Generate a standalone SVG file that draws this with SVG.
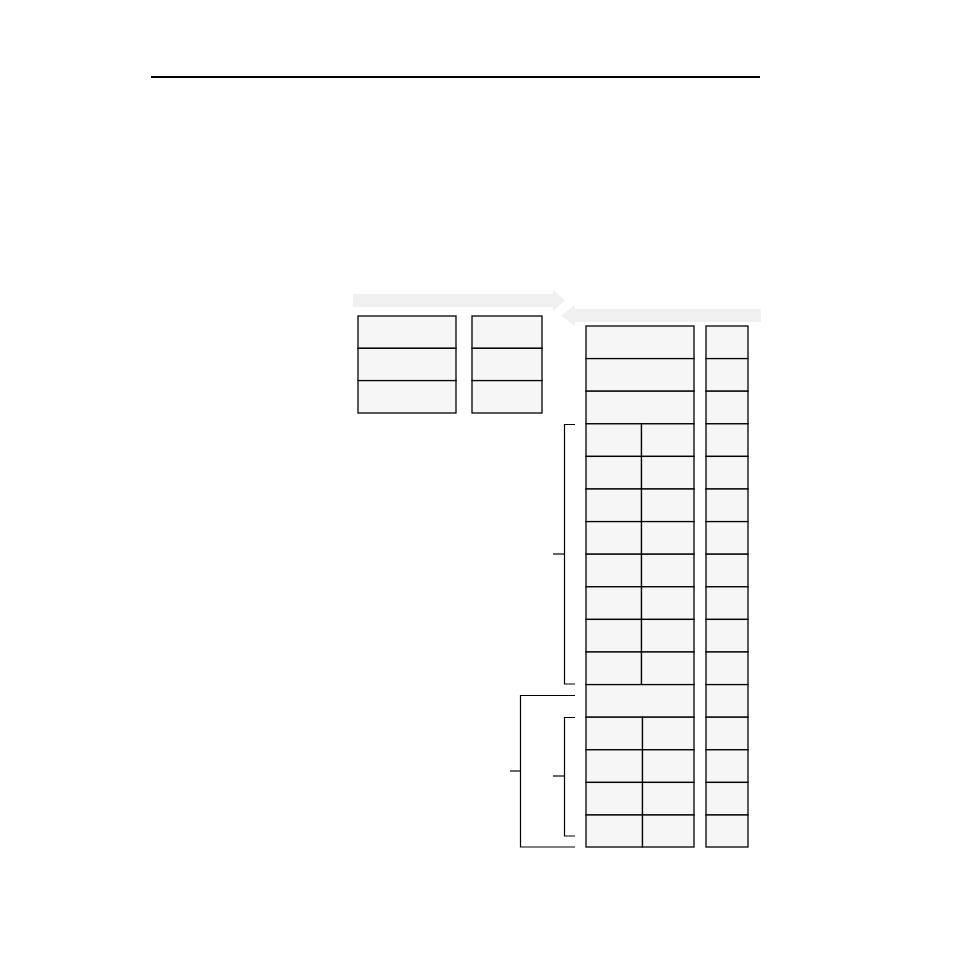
<svg xmlns="http://www.w3.org/2000/svg" width="954" height="954" viewBox="0 0 954 954">
<style>
.c{fill:#f6f6f6;stroke:#000;stroke-width:1.3}
.b{fill:none;stroke:#000;stroke-width:1.2}
.a{fill:#f0f0f0;stroke:none}
</style>
<rect width="954" height="954" fill="#fff"/>
<line x1="151" y1="77" x2="760" y2="77" stroke="#000" stroke-width="2"/>
<g id="arrows">
<polygon class="a" points="353,294 553,294 553,290 565,300.5 553,311 553,307 353,307"/>
<polygon class="a" points="761,309 575,309 575,305 561,315.5 575,326 575,322 761,322"/>
</g>
<g id="table-left">
<rect class="c" x="358" y="316" width="98" height="32.3"/>
<rect class="c" x="358" y="348.3" width="98" height="32.3"/>
<rect class="c" x="358" y="380.6" width="98" height="32.4"/>
</g>
<g id="table-left2">
<rect class="c" x="472" y="316" width="70" height="32.3"/>
<rect class="c" x="472" y="348.3" width="70" height="32.3"/>
<rect class="c" x="472" y="380.6" width="70" height="32.4"/>
</g>
<g id="table-main">
<rect class="c" x="586" y="326" width="108" height="32.6"/>
<rect class="c" x="586" y="358.6" width="108" height="32.6"/>
<rect class="c" x="586" y="391.2" width="108" height="32.6"/>
<rect class="c" x="586" y="423.8" width="55.5" height="32.6"/><rect class="c" x="641.5" y="423.8" width="52.5" height="32.6"/>
<rect class="c" x="586" y="456.4" width="55.5" height="32.6"/><rect class="c" x="641.5" y="456.4" width="52.5" height="32.6"/>
<rect class="c" x="586" y="489" width="55.5" height="32.6"/><rect class="c" x="641.5" y="489" width="52.5" height="32.6"/>
<rect class="c" x="586" y="521.6" width="55.5" height="32.6"/><rect class="c" x="641.5" y="521.6" width="52.5" height="32.6"/>
<rect class="c" x="586" y="554.2" width="55.5" height="32.6"/><rect class="c" x="641.5" y="554.2" width="52.5" height="32.6"/>
<rect class="c" x="586" y="586.8" width="55.5" height="32.6"/><rect class="c" x="641.5" y="586.8" width="52.5" height="32.6"/>
<rect class="c" x="586" y="619.4" width="55.5" height="32.6"/><rect class="c" x="641.5" y="619.4" width="52.5" height="32.6"/>
<rect class="c" x="586" y="652" width="55.5" height="32.6"/><rect class="c" x="641.5" y="652" width="52.5" height="32.6"/>
<rect class="c" x="586" y="684.6" width="108" height="32.6"/>
<rect class="c" x="586" y="717.2" width="56.5" height="32.6"/><rect class="c" x="642.5" y="717.2" width="51.5" height="32.6"/>
<rect class="c" x="586" y="749.8" width="56.5" height="32.6"/><rect class="c" x="642.5" y="749.8" width="51.5" height="32.6"/>
<rect class="c" x="586" y="782.4" width="56.5" height="32.6"/><rect class="c" x="642.5" y="782.4" width="51.5" height="32.6"/>
<rect class="c" x="586" y="815" width="56.5" height="32"/><rect class="c" x="642.5" y="815" width="51.5" height="32"/>
</g>
<g id="table-right">
<rect class="c" x="706" y="326" width="42" height="32.6"/>
<rect class="c" x="706" y="358.6" width="42" height="32.6"/>
<rect class="c" x="706" y="391.2" width="42" height="32.6"/>
<rect class="c" x="706" y="423.8" width="42" height="32.6"/>
<rect class="c" x="706" y="456.4" width="42" height="32.6"/>
<rect class="c" x="706" y="489" width="42" height="32.6"/>
<rect class="c" x="706" y="521.6" width="42" height="32.6"/>
<rect class="c" x="706" y="554.2" width="42" height="32.6"/>
<rect class="c" x="706" y="586.8" width="42" height="32.6"/>
<rect class="c" x="706" y="619.4" width="42" height="32.6"/>
<rect class="c" x="706" y="652" width="42" height="32.6"/>
<rect class="c" x="706" y="684.6" width="42" height="32.6"/>
<rect class="c" x="706" y="717.2" width="42" height="32.6"/>
<rect class="c" x="706" y="749.8" width="42" height="32.6"/>
<rect class="c" x="706" y="782.4" width="42" height="32.6"/>
<rect class="c" x="706" y="815" width="42" height="32"/>
</g>
<g id="connectors">
<polyline class="b" points="575,424.5 564.5,424.5 564.5,684 575,684"/>
<line class="b" x1="553" y1="554" x2="564.5" y2="554"/>
<polyline class="b" points="575,717.5 564.5,717.5 564.5,836 575,836"/>
<line class="b" x1="553" y1="776" x2="564.5" y2="776"/>
<polyline class="b" points="575,695.5 520.5,695.5 520.5,847 575,847"/>
<line class="b" x1="510" y1="771" x2="520.5" y2="771"/>
</g>
</svg>
